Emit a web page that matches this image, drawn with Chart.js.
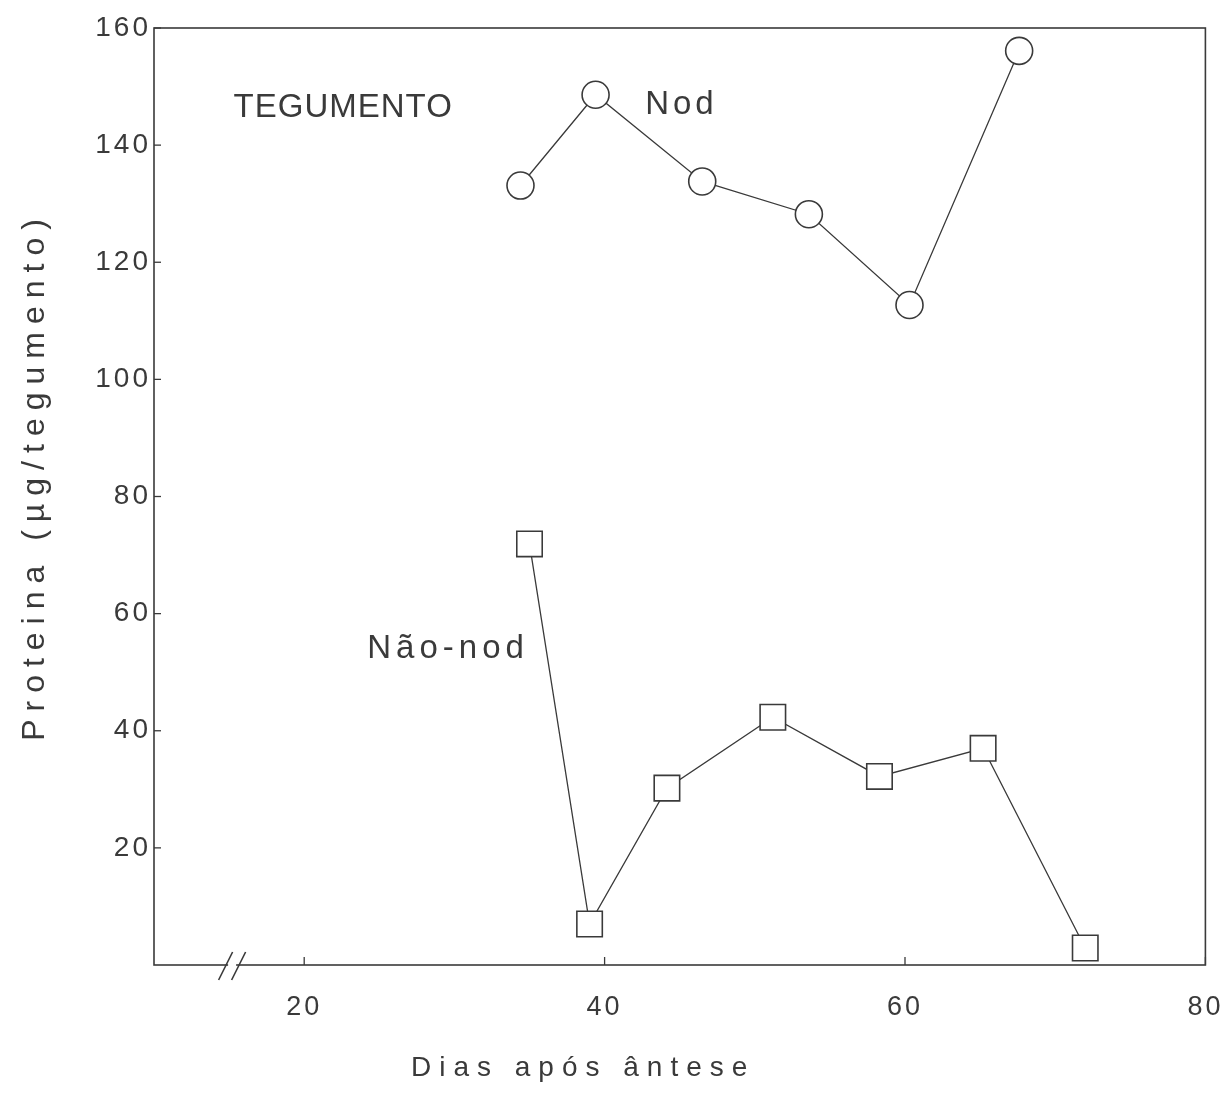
<!DOCTYPE html>
<html>
<head>
<meta charset="utf-8">
<script src="https://cdn.jsdelivr.net/npm/chart.js@4.4.1/dist/chart.umd.min.js"></script>
<style>
  html, body { margin: 0; padding: 0; background: #fff; }
  #wrap { width: 1225px; height: 1094px; }
</style>
</head>
<body>
<div id="wrap"><canvas id="tegumentoChart" width="1225" height="1094"></canvas></div>
<script>
// Proteína no tegumento: plantas nodulantes x não-nodulantes

const diasNod = [34.4, 39.4, 46.5, 53.6, 60.3, 67.6];
const proteinaNod = [133.1, 148.6, 133.8, 128.2, 112.7, 156.1];

const diasNaoNod = [35.0, 39.0, 44.15, 51.2, 58.3, 65.2, 72.0];
const proteinaNaoNod = [71.9, 7.0, 30.2, 42.3, 32.2, 37.0, 2.9];

const ticksX = [20, 40, 60, 80];
const ticksY = [20, 40, 60, 80, 100, 120, 140, 160];

const tinta = '#3a3a3a';
const fonte = '"Liberation Sans", "DejaVu Sans", Arial, sans-serif';

function pares(xs, ys) {
    return xs.map((x, i) => ({ x: x, y: ys[i] }));
}

// Moldura, marcas internas, quebra do eixo, rótulos e títulos dos eixos
const decoracao = {
    id: 'decoracao',
    beforeDraw(chart) {
        chart.ctx.letterSpacing = '3px';
    },
    afterDraw(chart) {
        const ctx = chart.ctx;
        const a = chart.chartArea;
        const sx = chart.scales.x;
        const sy = chart.scales.y;
        ctx.save();
        ctx.strokeStyle = tinta;
        ctx.fillStyle = tinta;
        ctx.lineWidth = 1.6;
        ctx.strokeRect(a.left, a.top, a.right - a.left, a.bottom - a.top);

        // marcas para dentro
        ctx.lineWidth = 1.3;
        ticksY.forEach(v => {
            const y = sy.getPixelForValue(v);
            ctx.beginPath();
            ctx.moveTo(a.left, y);
            ctx.lineTo(a.left + 7, y);
            ctx.stroke();
        });
        ticksX.forEach(v => {
            const x = sx.getPixelForValue(v);
            ctx.beginPath();
            ctx.moveTo(x, a.bottom);
            ctx.lineTo(x, a.bottom - 8);
            ctx.stroke();
        });

        // quebra do eixo x
        const xb = sx.getPixelForValue(15.2);
        ctx.fillStyle = '#fff';
        ctx.fillRect(xb - 4, a.bottom - 3, 8, 6);
        ctx.strokeStyle = tinta;
        ctx.lineWidth = 1.6;
        [-6.5, 6.5].forEach(d => {
            ctx.beginPath();
            ctx.moveTo(xb + d - 7, a.bottom + 15);
            ctx.lineTo(xb + d + 7, a.bottom - 13);
            ctx.stroke();
        });

        // rótulos dentro do gráfico
        ctx.fillStyle = tinta;
        ctx.textBaseline = 'alphabetic';
        ctx.textAlign = 'left';
        ctx.letterSpacing = '1px';
        ctx.font = '500 33px ' + fonte;
        ctx.fillText('TEGUMENTO', sx.getPixelForValue(15.3), sy.getPixelForValue(144.8));
        ctx.letterSpacing = '4px';
        ctx.font = '33px ' + fonte;
        ctx.fillText('Nod', sx.getPixelForValue(42.7), sy.getPixelForValue(145.4));
        ctx.letterSpacing = '5px';
        ctx.fillText('Não-nod', sx.getPixelForValue(24.2), sy.getPixelForValue(52.4));

        // títulos dos eixos
        ctx.letterSpacing = '8px';
        ctx.font = '28px ' + fonte;
        ctx.textAlign = 'left';
        ctx.textBaseline = 'middle';
        ctx.fillText('Dias após ântese', 411, 1068);

        ctx.translate(35, 476);
        ctx.rotate(-Math.PI / 2);
        ctx.textAlign = 'center';
        ctx.letterSpacing = '8px';
        ctx.font = '32px ' + fonte;
        ctx.fillText('Proteina (\u00b5g/tegumento)', 0, 0);
        ctx.restore();
    }
};

function criarGrafico() {
    const ctx = document.getElementById('tegumentoChart').getContext('2d');

    window.tegumentoChart = new Chart(ctx, {
        type: 'scatter',
        data: {
            datasets: [
                {
                    label: 'Nod',
                    data: pares(diasNod, proteinaNod),
                    showLine: true,
                    borderColor: tinta,
                    borderWidth: 1.3,
                    pointStyle: 'circle',
                    pointRadius: 13.5,
                    pointBorderWidth: 1.6,
                    pointBackgroundColor: '#fff',
                    pointBorderColor: tinta
                },
                {
                    label: 'Não-nod',
                    data: pares(diasNaoNod, proteinaNaoNod),
                    showLine: true,
                    borderColor: tinta,
                    borderWidth: 1.3,
                    pointStyle: 'rect',
                    pointRadius: 18,
                    pointBorderWidth: 1.6,
                    pointBackgroundColor: '#fff',
                    pointBorderColor: tinta
                }
            ]
        },
        options: {
            responsive: false,
            animation: false,
            events: [],
            layout: { padding: { top: 28, right: 15, left: 0, bottom: 0 } },
            plugins: {
                legend: { display: false },
                tooltip: { enabled: false }
            },
            scales: {
                x: {
                    type: 'linear',
                    min: 10,
                    max: 80,
                    afterBuildTicks: s => { s.ticks = ticksX.map(v => ({ value: v })); },
                    afterFit: s => { s.height = 129; s.paddingLeft = 0; s.paddingRight = 0; },
                    grid: { display: false, drawTicks: false },
                    border: { display: false },
                    ticks: {
                        color: tinta,
                        padding: 26,
                        maxRotation: 0,
                        font: { family: fonte, size: 27 }
                    }
                },
                y: {
                    type: 'linear',
                    min: 0,
                    max: 160,
                    afterBuildTicks: s => { s.ticks = ticksY.map(v => ({ value: v })); },
                    afterFit: s => { s.width = 154; s.paddingTop = 0; s.paddingBottom = 0; },
                    grid: { display: false, drawTicks: false },
                    border: { display: false },
                    ticks: {
                        color: tinta,
                        padding: 3,
                        font: { family: fonte, size: 28 }
                    }
                }
            }
        },
        plugins: [decoracao]
    });
}

document.addEventListener('DOMContentLoaded', criarGrafico);
</script>
</body>
</html>
